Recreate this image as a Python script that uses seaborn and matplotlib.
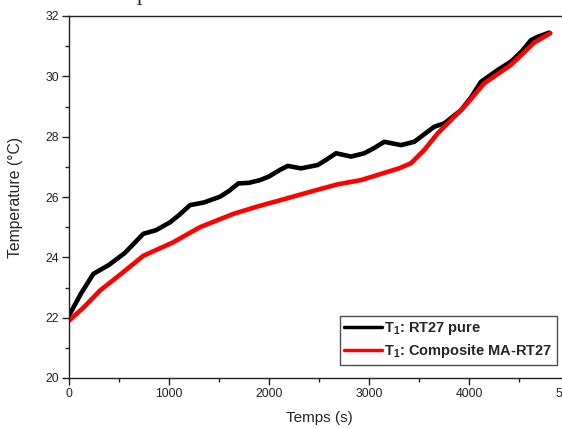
import matplotlib
matplotlib.use("Agg")
import matplotlib.pyplot as plt
import seaborn as sns
import pandas as pd
from matplotlib.ticker import MultipleLocator

# ---- data ----
time_pure = [0, 120, 243, 400, 560, 743, 870, 1010, 1100, 1210, 1350, 1510, 1600, 1693,
             1800, 1910, 2000, 2110, 2187, 2320, 2487, 2580, 2670, 2820, 2953, 3050,
             3153, 3320, 3453, 3560, 3653, 3753, 3920, 4020, 4120, 4287, 4420, 4520,
             4620, 4687, 4803]
temp_pure = [22.07, 22.8, 23.45, 23.75, 24.15, 24.78, 24.9, 25.16, 25.4, 25.73, 25.82,
             26.01, 26.2, 26.45, 26.47, 26.56, 26.68, 26.9, 27.03, 26.95, 27.06, 27.25,
             27.45, 27.34, 27.45, 27.62, 27.83, 27.72, 27.83, 28.1, 28.33, 28.44, 28.88,
             29.3, 29.82, 30.21, 30.49, 30.8, 31.2, 31.31, 31.45]

time_comp = [0, 150, 310, 520, 743, 1043, 1310, 1643, 1900, 2120, 2453, 2687, 2920,
             3153, 3300, 3420, 3553, 3687, 3787, 3953, 4153, 4420, 4653, 4813]
temp_comp = [21.9, 22.35, 22.9, 23.45, 24.05, 24.5, 25.0, 25.44, 25.7, 25.9, 26.21,
             26.42, 26.56, 26.8, 26.95, 27.12, 27.56, 28.11, 28.44, 28.99, 29.77, 30.38,
             31.12, 31.43]

labels = [r"$\mathbf{T_1}$: RT27 pure", r"$\mathbf{T_1}$: Composite MA-RT27"]
colors = ["#000000", "#ff0000"]

x_ticks = [0, 1000, 2000, 3000, 4000, 5000]
y_ticks = [20, 22, 24, 26, 28, 30, 32]

sns.set_style("ticks")
plt.rcParams["font.family"] = ["Liberation Sans", "DejaVu Sans"]
plt.rcParams["mathtext.fontset"] = "custom"
plt.rcParams["mathtext.bf"] = "Liberation Sans:bold"
plt.rcParams["mathtext.rm"] = "Liberation Sans:bold"

fig = plt.figure(figsize=(5.62, 4.28), dpi=100)
ax = fig.add_axes([69 / 562, 50 / 428, 500 / 562, 362 / 428])

df1 = pd.DataFrame({"t": time_pure, "T": temp_pure})
df2 = pd.DataFrame({"t": time_comp, "T": temp_comp})
sns.lineplot(data=df1, x="t", y="T", ax=ax, color=colors[0], lw=3.3, label=labels[0])
sns.lineplot(data=df2, x="t", y="T", ax=ax, color=colors[1], lw=3.3, label=labels[1])

ax.set_xlim(0, 5000)
ax.set_ylim(20, 32)
ax.set_xticks(x_ticks)
ax.set_yticks(y_ticks)
ax.xaxis.set_minor_locator(MultipleLocator(500))
ax.yaxis.set_minor_locator(MultipleLocator(1))
ax.tick_params(which="major", length=5, width=1, labelsize=8.8, color="#222222",
               labelcolor="#222222", pad=2.2, direction="out")
ax.tick_params(which="minor", length=3, width=1, color="#222222", direction="out")
ax.tick_params(top=False, right=False, which="both")
for sp in ax.spines.values():
    sp.set_linewidth(1)
    sp.set_color("#222222")

ax.set_xlabel("Temps (s)", fontsize=11)
ax.set_ylabel("Temperature (°C)", fontsize=11.3)
ax.xaxis.set_label_coords(0.501, (378 - 411) / 362)
ax.yaxis.set_label_coords((23 - 69) / 500, 0.5)

leg = ax.legend(loc="upper left", bbox_to_anchor=((340 - 69) / 500, (378 - 316) / 362),
                borderaxespad=0, frameon=True, fancybox=False, handlelength=2.6,
                handletextpad=0.15, borderpad=0.3, labelspacing=0.35,
                prop={"weight": "bold", "size": 10.5})
leg.get_frame().set_edgecolor("#222222")
leg.get_frame().set_linewidth(1)
for h in leg.get_lines():
    h.set_linewidth(2.5)

fig.text(142 / 562, 1.0, "p", family="Liberation Serif", fontsize=16,
         ha="center", va="baseline")

fig.savefig("out.png", dpi=100)
